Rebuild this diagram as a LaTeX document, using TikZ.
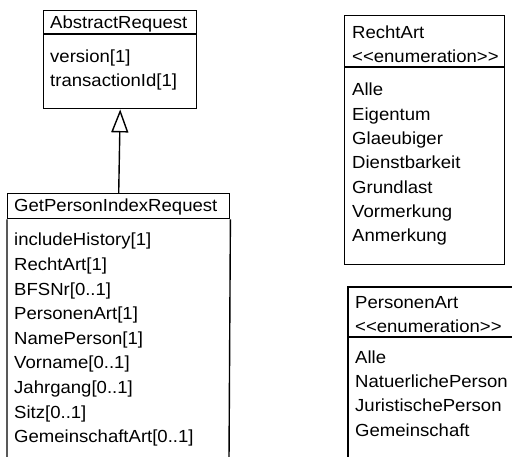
\documentclass[tikz,border=0pt]{standalone}
\usepackage{fontspec}
\setmainfont{Liberation Sans}[FakeStretch=1.06]
\usetikzlibrary{arrows.meta}
\begin{document}
\begin{tikzpicture}[x=1pt,y=-1pt,
  boxline/.style={line width=1.4pt},
  txt/.style={anchor=base west,inner sep=0pt,font=\fontsize{17.5}{20}\selectfont},
  hdr/.style={draw,boxline,anchor=north west,inner sep=0pt},
  inherit/.style={boxline,-{Triangle[open,length=23pt,width=17pt,line width=1.4pt]}}]
\useasboundingbox (0,0) rectangle (512,457);
% AbstractRequest
\node[hdr,minimum width=153pt,minimum height=98pt] (abs) at (43,10) {};
\draw[boxline] (43,34) -- (196,34);
\node[txt] (absn) at (50,29) {AbstractRequest};
\node[txt] (abs1) at (50,63) {version[1]};
\node[txt] (abs2) at (50,87) {transactionId[1]};
% GetPersonIndexRequest
\node[hdr,minimum width=222pt,minimum height=25pt] (gpi) at (7,193) {};
\draw[boxline] (gpi.south west) -- (7,460) (gpi.south east) -- (229,460);
\node[txt] (gpin) at (14,212) {GetPersonIndexRequest};
\foreach \t [count=\i from 0] in {includeHistory[1],RechtArt[1],BFSNr[0..1],PersonenArt[1],NamePerson[1],Vorname[0..1],Jahrgang[0..1],Sitz[0..1],GemeinschaftArt[0..1]}
  \node[txt] (gpi\i) at (14,246+24.6*\i) {\t};
\draw[inherit] (gpi.north) -- (abs.south);
% RechtArt
\node[hdr,minimum width=160pt,minimum height=249pt] (ra) at (344,15) {};
\draw[boxline] (344,67) -- (504,67);
\node[txt] (ran) at (352,39) {RechtArt};
\node[txt] (rae) at (352,63) {<{}<enumeration>{}>};
\foreach \t [count=\i from 0] in {Alle,Eigentum,Glaeubiger,Dienstbarkeit,Grundlast,Vormerkung,Anmerkung}
  \node[txt] (ra\i) at (352,96+24.3*\i) {\t};
% PersonenArt
\draw[boxline] (348,460) -- (348,287) -- (515,287);
\draw[boxline] (348,337) -- (515,337);
\node[txt] (pan) at (355,309) {PersonenArt};
\node[txt] (pae) at (355,333) {<{}<enumeration>{}>};
\foreach \t [count=\i from 0] in {Alle,NatuerlichePerson,JuristischePerson,Gemeinschaft}
  \node[txt] (pa\i) at (355,364+24*\i) {\t};
\end{tikzpicture}
\end{document}
